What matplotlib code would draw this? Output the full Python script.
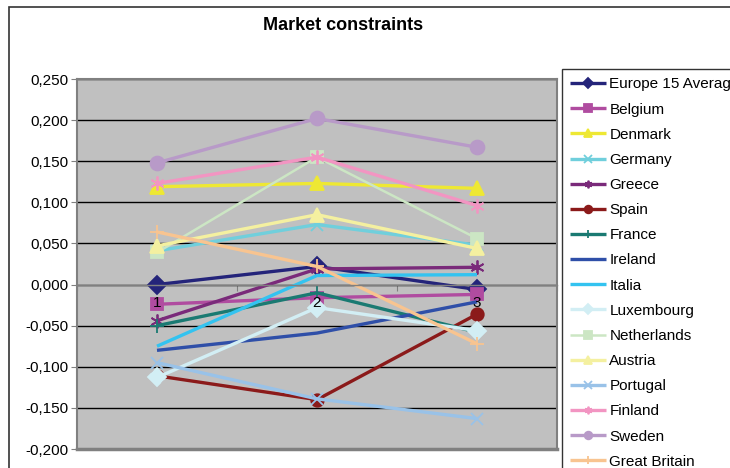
import matplotlib
matplotlib.use("Agg")
import matplotlib.pyplot as plt
from matplotlib.patches import Rectangle
from matplotlib.ticker import FuncFormatter

plt.rcParams['font.family'] = ['Liberation Sans', 'DejaVu Sans']

# index values per country for the three survey groups
groups = ["1", "2", "3"]
countries = ["Europe 15 Average", "Belgium", "Denmark", "Germany", "Greece", "Spain",
             "France", "Ireland", "Italia", "Luxembourg", "Netherlands", "Austria",
             "Portugal", "Finland", "Sweden", "Great Britain"]

eu15 = [0.000, 0.022, -0.006]
belgium = [-0.024, -0.016, -0.012]
denmark = [0.119, 0.123, 0.117]
germany = [0.041, 0.073, 0.048]
greece = [-0.044, 0.019, 0.021]
spain = [-0.111, -0.140, -0.036]
france = [-0.050, -0.010, -0.058]
ireland = [-0.080, -0.059, -0.021]
italia = [-0.075, 0.011, 0.012]
luxembourg = [-0.113, -0.028, -0.056]
netherlands = [0.039, 0.155, 0.056]
austria = [0.047, 0.085, 0.044]
portugal = [-0.095, -0.139, -0.163]
finland = [0.123, 0.155, 0.096]
sweden = [0.148, 0.202, 0.167]
great_britain = [0.064, 0.022, -0.072]

series = [eu15, belgium, denmark, germany, greece, spain, france, ireland, italia,
          luxembourg, netherlands, austria, portugal, finland, sweden, great_britain]

star = (6, 2, 0)
styles = [
    ("#24247A", "D", 9, 2.4),
    ("#B04CA0", "s", 9, 2.4),
    ("#EEE833", "^", 10, 2.4),
    ("#70CFDC", "x", 9, 2.4),
    ("#7A2A7A", star, 10, 2.4),
    ("#8B1A1A", "o", 9, 2.4),
    ("#1A7A72", "+", 10, 2.4),
    ("#2F4FA8", None, 0, 2.4),
    ("#33C3F0", None, 0, 2.4),
    ("#D2EEF4", "D", 9, 2.4),
    ("#CCE6C4", "s", 9, 1.8),
    ("#F4F0A0", "^", 10, 2.4),
    ("#99C2E8", "x", 9, 2.4),
    ("#F295C2", star, 10, 2.4),
    ("#B89AC8", "o", 10, 2.4),
    ("#F8C490", "+", 10, 2.4),
]

fig = plt.figure(figsize=(7.3, 4.68), dpi=100)
fig.patch.set_facecolor("white")

# outer chart frame, runs off the right and bottom edges
fig.patches.append(Rectangle((9 / 730, -0.05), 1.0, 1 - 7 / 468 + 0.05,
                             transform=fig.transFigure, fill=False,
                             edgecolor="#333333", linewidth=1.2))

ax = fig.add_axes([77 / 730, 1 - 449 / 468, 480 / 730, 370 / 468])
ax.set_facecolor("#C0C0C0")

x = [1, 2, 3]
for name, vals, (col, mk, ms, lw) in zip(countries, series, styles):
    ax.plot(x, vals, color=col, linewidth=lw, marker=mk, markersize=ms,
            markeredgecolor=col, markerfacecolor=col, markeredgewidth=1.3,
            label=name, solid_capstyle='butt')

ax.set_xlim(0.5, 3.5)
ax.set_ylim(-0.2, 0.25)
ax.set_yticks([-0.2 + 0.05 * i for i in range(10)])
ax.yaxis.set_major_formatter(FuncFormatter(lambda v, p: ("%.3f" % v).replace(".", ",").replace("-0,000", "0,000")))
ax.yaxis.grid(True, color="black", linewidth=1.0)
ax.set_axisbelow(True)
ax.tick_params(axis="y", direction="out", length=4, labelsize=11, pad=2, color="#808080")

# category axis sits on zero, ticks between categories
ax.spines["bottom"].set_position(("data", 0))
ax.spines["bottom"].set_color("#808080")
ax.set_xticks([0.5, 1.5, 2.5, 3.5])
ax.set_xticklabels([])
ax.tick_params(axis="x", which="major", direction="out", length=4, color="#808080")

# category labels drawn above the lines, just under the zero line
for xi, g in zip(x, groups):
    ax.annotate(g, (xi, 0), xytext=(0, -8), textcoords="offset points",
                ha="center", va="top", fontsize=11, zorder=10)

for s in ["left", "top", "right"]:
    ax.spines[s].set_color("#808080")
    ax.spines[s].set_linewidth(1.5)
ax.spines["bottom"].set_linewidth(1.0)
# grey frame at the bottom of the plot area
ax.axhline(-0.2, color="#808080", linewidth=2.5, clip_on=False)

fig.text(343 / 730, 1 - 25 / 468, "Market constraints", ha="center", va="center",
         fontsize=13, fontweight="bold")

leg = fig.legend(loc="upper left", bbox_to_anchor=(562 / 730, 1 - 69 / 468),
                 fontsize=11, frameon=True, fancybox=False, edgecolor="black",
                 labelspacing=0.73, handlelength=2.3, handletextpad=0.25,
                 borderpad=0.55, borderaxespad=0)
leg.get_frame().set_linewidth(1.0)
for h in leg.legend_handles:
    h.set_markersize(5.5)

fig.savefig("out.png", dpi=100)
